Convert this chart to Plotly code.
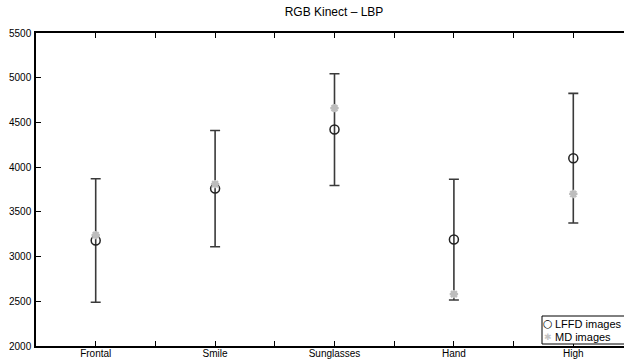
import plotly.graph_objects as go

categories = ["Frontal", "Smile", "Sunglasses", "Hand", "High"]
lffd_mean = [3180, 3760, 4420, 3190, 4100]
lffd_err = [690, 650, 625, 675, 725]
md_mean = [3240, 3810, 4660, 2580, 3700]
legend_names = ["LFFD images", "MD images"]

xpos = [1, 3, 5, 7, 9]
tickvals = list(range(0, 11))
ticktext = [categories[(v - 1) // 2] if v % 2 == 1 else "" for v in tickvals]

W, H = 624, 359
left, right, top, bottom = 36, 624, 33, 346
unit = 59.7
xmax = (right - left) / unit

fig = go.Figure()
fig.add_trace(go.Scatter(
    x=xpos, y=lffd_mean, mode="markers", name=legend_names[0], showlegend=False,
    marker=dict(symbol="circle-open", size=9, color="#222222", line=dict(width=1.5)),
    error_y=dict(type="data", array=lffd_err, visible=True, color="#3a3a3a", thickness=1.6, width=5),
))
fig.add_trace(go.Scatter(
    x=xpos, y=md_mean, mode="markers", name=legend_names[1], showlegend=False,
    marker=dict(symbol="asterisk-open", size=7, color="#bdbdbd", line=dict(width=2.2, color="#bdbdbd")),
))

def px(xp):
    return (xp - left) / (right - left)

def py(yp):
    return (bottom - yp) / (bottom - top)

# manual legend box (clipped at the right edge like the reference)
fig.add_shape(type="rect", xref="paper", yref="paper", x0=px(542), x1=px(640), y0=py(344), y1=py(316),
              line=dict(color="black", width=1), fillcolor="white", layer="above")
fig.add_annotation(xref="paper", yref="paper", x=px(547.5), y=py(323.5), text="○", showarrow=False,
                   xanchor="center", yanchor="middle", font=dict(size=11, color="black",
                   family="DejaVu Sans"))
fig.add_annotation(xref="paper", yref="paper", x=px(547.5), y=py(336.5), text="✱", showarrow=False,
                   xanchor="center", yanchor="middle", font=dict(size=9, color="#c4c4c4",
                   family="DejaVu Sans"))
fig.add_annotation(xref="paper", yref="paper", x=px(553), y=py(323.5), text=legend_names[0], showarrow=False,
                   xanchor="left", yanchor="middle", font=dict(size=11, color="black"))
fig.add_annotation(xref="paper", yref="paper", x=px(553), y=py(336.5), text=legend_names[1], showarrow=False,
                   xanchor="left", yanchor="middle", font=dict(size=11, color="black"))

fig.update_layout(
    width=W, height=H,
    margin=dict(l=left, r=W - right, t=top, b=H - bottom, autoexpand=False),
    plot_bgcolor="white", paper_bgcolor="white",
    font=dict(family="Liberation Sans, Arial, sans-serif", size=10, color="black"),
    title=dict(text="RGB Kinect – LBP", x=334 / W, xanchor="center", y=1 - 12 / H, yanchor="middle",
               font=dict(size=12)),
    showlegend=False,
)
fig.update_xaxes(range=[0, xmax], tickvals=tickvals, ticktext=ticktext, ticks="inside", ticklen=5,
                 tickwidth=1, tickcolor="black", showline=True, linecolor="black", linewidth=1.5,
                 mirror="ticks", showgrid=False, zeroline=False, tickfont=dict(size=10),
                 ticklabelstandoff=-3)
fig.update_yaxes(range=[2000, 5500], tickvals=[2000, 2500, 3000, 3500, 4000, 4500, 5000, 5500],
                 ticks="inside", ticklen=5, tickwidth=1, tickcolor="black", showline=True,
                 linecolor="black", linewidth=1.5, mirror=False, showgrid=False, zeroline=False,
                 tickfont=dict(size=10), ticklabelstandoff=1)

fig.write_html("out.html", config={"displayModeBar": False},
               post_script="document.body.style.margin='0';document.body.style.overflow='hidden';")
